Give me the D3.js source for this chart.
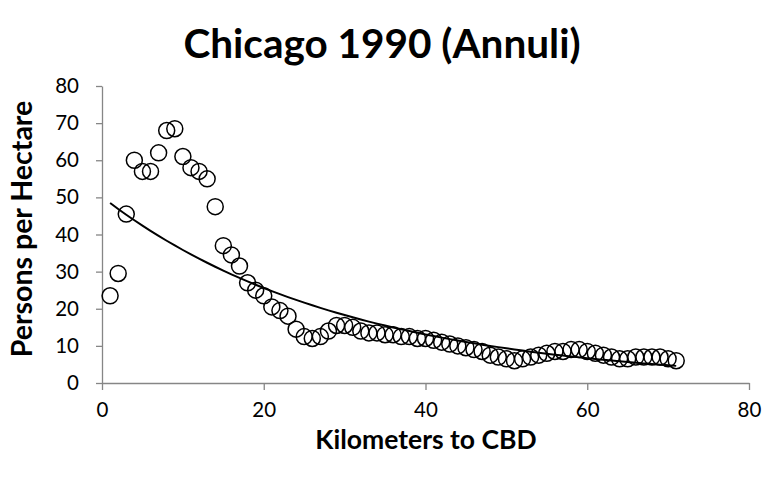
<!DOCTYPE html>
<html>
<head>
<meta charset="utf-8">
<script src="https://cdn.jsdelivr.net/npm/d3@7"></script>
<style>
  body { margin: 0; background: #fff; }
  text { font-family: Lato, "Open Sans", sans-serif; }
</style>
</head>
<body>
<svg width="766" height="479"></svg>
<script>
const w = 766;
const h = 479;

// km from CBD, persons per hectare
const distances = d3.range(1, 72);
const density = [
  23.5, 29.5, 45.5, 60, 57, 57, 62, 68, 68.5, 61,
  58, 57, 55, 47.5, 37, 34.5, 31.5, 27, 25, 23.5,
  20.5, 19.5, 18, 14.5, 12.5, 12, 12.5, 14, 15.5, 15.5,
  15, 14, 13.5, 13.5, 13, 13, 12.5, 12.5, 12, 12,
  11.5, 11, 10.5, 10, 9.5, 9, 8.5, 7.5, 7, 6.5,
  6, 6.5, 7, 7.5, 8, 8.5, 8.5, 9, 9, 8.5,
  8, 7.5, 7, 6.5, 6.5, 7, 7, 7, 7, 6.5, 6
];
const xTicks = [0, 20, 40, 60, 80];
const yTicks = [0, 10, 20, 30, 40, 50, 60, 70, 80];

const data = distances.map((d, i) => ({ x: d, y: density[i] }));

const svg = d3.select("svg");

const xScale = d3.scaleLinear().domain([0, 80]).range([102, 749]);
const yScale = d3.scaleLinear().domain([0, 80]).range([383, 86]);

// exponential trendline, least squares on ln(y) like Excel
const mx = d3.mean(data, d => d.x);
const my = d3.mean(data, d => Math.log(d.y));
const b = d3.sum(data, d => (d.x - mx) * (Math.log(d.y) - my)) /
          d3.sum(data, d => (d.x - mx) * (d.x - mx));
const a = Math.exp(my - b * mx);
const trend = distances.map(x => ({ x, y: a * Math.exp(b * x) }));

const xAxis = d3.axisBottom(xScale).tickValues(xTicks).tickSize(7).tickSizeOuter(0);
const yAxis = d3.axisLeft(yScale).tickValues(yTicks).tickSize(6).tickSizeOuter(0);

const gx = svg.append("g")
  .attr("transform", `translate(0, ${yScale(0)})`)
  .call(xAxis);
gx.select(".domain").attr("stroke", "#868686").attr("stroke-width", 1.3);
gx.selectAll(".tick line").attr("stroke", "#868686").attr("stroke-width", 1.3);
gx.selectAll(".tick text")
  .attr("font-size", 20.5)
  .attr("fill", "#000")
  .attr("y", 15)
  .attr("dy", "0.95em")
  .style("font-family", "Lato, sans-serif");

const gy = svg.append("g")
  .attr("transform", `translate(${xScale(0)}, 0)`)
  .call(yAxis);
gy.select(".domain").attr("stroke", "#868686").attr("stroke-width", 1.3);
gy.selectAll(".tick line").attr("stroke", "#868686").attr("stroke-width", 1.3);
gy.selectAll(".tick text")
  .attr("font-size", 20.5)
  .attr("fill", "#000")
  .attr("x", -23)
  .style("font-family", "Lato, sans-serif");

// points
svg.append("g")
  .selectAll("circle")
  .data(data)
  .enter()
  .append("circle")
  .attr("cx", d => xScale(d.x))
  .attr("cy", d => yScale(d.y))
  .attr("r", 8)
  .attr("fill", "none")
  .attr("stroke", "#000")
  .attr("stroke-width", 1.5);

// trendline
svg.append("path")
  .datum(trend)
  .attr("fill", "none")
  .attr("stroke", "#000")
  .attr("stroke-width", 2)
  .attr("d", d3.line().x(d => xScale(d.x)).y(d => yScale(d.y)).curve(d3.curveMonotoneX));

// titles
svg.append("text")
  .attr("x", 382)
  .attr("y", 58)
  .attr("text-anchor", "middle")
  .attr("font-size", 40.5)
  .attr("font-weight", "bold")
  .text("Chicago 1990 (Annuli)");

svg.append("text")
  .attr("x", 426)
  .attr("y", 449)
  .attr("text-anchor", "middle")
  .attr("font-size", 26.5)
  .attr("font-weight", "bold")
  .text("Kilometers to CBD");

svg.append("text")
  .attr("transform", "translate(32, 229) rotate(-90)")
  .attr("text-anchor", "middle")
  .attr("font-size", 28.5)
  .attr("font-weight", "bold")
  .text("Persons per Hectare");
</script>
</body>
</html>
